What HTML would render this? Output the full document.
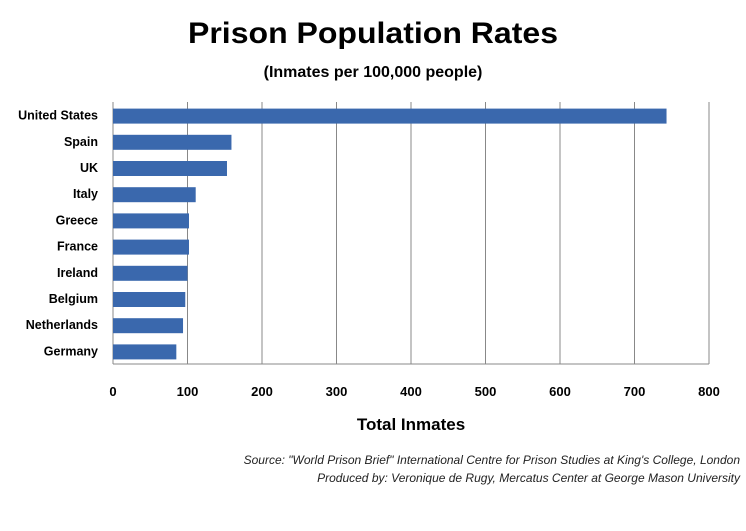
<!DOCTYPE html>
<html><head><meta charset="utf-8"><style>
body{margin:0;background:#fff;}
svg{display:block;font-family:"Liberation Sans",sans-serif;}
</style></head><body>
<svg width="746" height="531" viewBox="0 0 746 531">
<text x="373" y="43" text-anchor="middle" font-size="30" font-weight="bold" fill="#000" textLength="370" lengthAdjust="spacingAndGlyphs">Prison Population Rates</text>
<text x="373" y="77" text-anchor="middle" font-size="16" font-weight="bold" fill="#000">(Inmates per 100,000 people)</text>
<g id="grid"></g><g id="bars"></g><g id="labels"></g><g id="ticks"></g>
<text x="411" y="430" text-anchor="middle" font-size="17" font-weight="bold">Total Inmates</text>
<text x="740" y="464" text-anchor="end" font-size="12" font-style="italic" fill="#222">Source: "World Prison Brief" International  Centre for Prison Studies at King's College, London</text>
<text x="740" y="482" text-anchor="end" font-size="12" font-style="italic" fill="#222">Produced by: Veronique de Rugy, Mercatus Center at George Mason University</text>
</svg>
<script>
const categories=["United States","Spain","UK","Italy","Greece","France","Ireland","Belgium","Netherlands","Germany"];
const values=[743,159,153,111,102,102,100,97,94,85];
const tickLabels=[0,100,200,300,400,500,600,700,800];
const NS="http://www.w3.org/2000/svg";
const x0=113,x1=709,yTop=102,yBottom=364,maxV=800;
const xs=v=>x0+(v/maxV)*(x1-x0);
const band=(yBottom-yTop)/categories.length;
function mk(t,a,p){const e=document.createElementNS(NS,t);for(const k in a)e.setAttribute(k,a[k]);p.appendChild(e);return e;}
const g=document.getElementById('grid'),b=document.getElementById('bars'),l=document.getElementById('labels'),tk=document.getElementById('ticks');
tickLabels.forEach(v=>{
 const ln=mk('line',{x1:xs(v),x2:xs(v),y1:yTop,y2:yBottom,stroke:'#888','stroke-width':1},g);
 
 
 const t=mk('text',{x:xs(v),y:396,'text-anchor':'middle','font-size':13,'font-weight':'bold'},tk);
 t.textContent=v;
 
 
});
const ax=mk('line',{x1:x0,x2:x1,y1:yBottom,y2:yBottom,stroke:'#888'},g);


categories.forEach((c,i)=>{
 const cy=yTop+band*(i+0.5);
 const r=mk('rect',{x:x0,y:cy-6.5,width:xs(values[i])-x0,height:15,fill:'#3a68ad'},b);
 
 
 const t=mk('text',{x:98,y:cy+4.5,'text-anchor':'end','font-size':12.5,'font-weight':'bold'},l);
 t.textContent=c;
 
 
});
</script>
</body></html>
